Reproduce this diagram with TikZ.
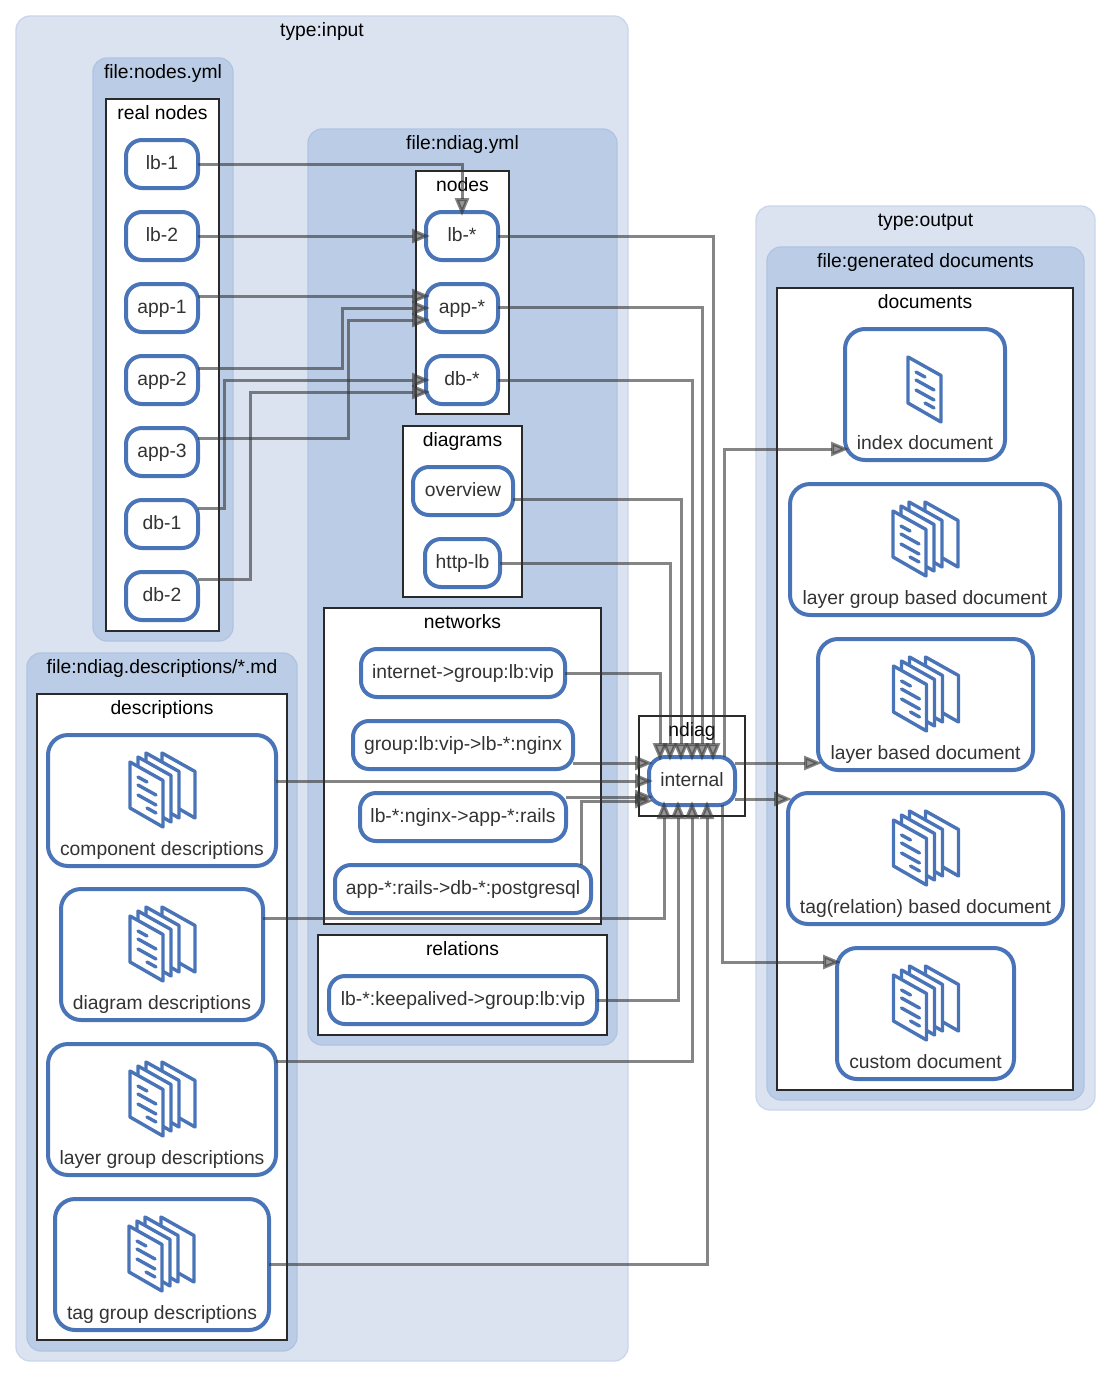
\documentclass[tikz,border=0pt]{standalone}
\usepackage{fontspec}
\setmainfont{Liberation Sans}
\usetikzlibrary{arrows.meta,calc}
\definecolor{typefill}{HTML}{DBE3F1}
\definecolor{typeline}{HTML}{C9D6EC}
\definecolor{filefill}{HTML}{BBCDE6}
\definecolor{fileline}{HTML}{B0C4E2}
\definecolor{nodeblue}{HTML}{4A74B8}
\definecolor{inktext}{HTML}{333333}
\definecolor{frameink}{HTML}{2A2A2A}
\tikzset{
  lbl/.style={font=\fontsize{19.3}{22}\selectfont},
  typebox/.style={draw=typeline,fill=typefill,line width=1.3pt,rounded corners=14pt,inner sep=0pt,outer sep=0pt},
  filebox/.style={draw=fileline,fill=filefill,line width=1.3pt,rounded corners=14pt,inner sep=0pt,outer sep=0pt},
  framebox/.style={draw=frameink,fill=white,line width=2.8pt,inner sep=0pt,outer sep=0pt},
  ndbox/.style={draw=nodeblue,fill=white,line width=4pt,rounded corners=16pt,inner sep=0pt,outer sep=0pt,text=inktext,lbl,text height=14pt,text depth=3pt},
  docbox/.style={ndbox,rounded corners=20pt,text height=120pt,text depth=11pt},
  titletext/.style={lbl,text=black,inner sep=0pt,outer sep=0pt,anchor=base},
  conn/.style={draw=inktext,opacity=.6,line width=3pt,shorten >=-4pt,
     -{Triangle[length=18pt,width=14pt,fill=inktext!85!white]}},
  pageink/.style={draw=nodeblue,line width=3.4pt,line join=round,fill=white},
  pics/pagepic/.style={code={
    \draw[pageink] (0,0) -- (33,18.5) -- (33,65) -- (0,46) -- cycle;
  }},
  pics/pagelines/.style={code={
    \draw[pageink,line cap=round] (8,15) -- (17,20) (8,23) -- (26,33) (8,33) -- (26,43) (17,46) -- (26,51);
  }},
  pics/onedoc/.style={code={
    \pic at (0,0) {pagepic}; \pic at (0,0) {pagelines};
  }},
  pics/manydocs/.style={code={
    \pic at (32,-9) {pagepic}; \pic at (16,-9) {pagepic}; \pic at (8,-5) {pagepic};
    \pic at (0,0) {pagepic}; \pic at (0,0) {pagelines};
  }},
}
\newcommand\area[7]{\node[#2,minimum width={(#5-#3)*1pt},minimum height={(#6-#4)*1pt}] (#1) at ({(#3+#5)/2},{(#4+#6)/2}) {};
  \node[titletext] (#1t) at ($(#1.north)+(0,20)$) {#7};}
\newcommand\nd[6]{\node[ndbox,minimum width={(#4-#2)*1pt},minimum height={(#5-#3)*1pt}] (#1) at ({(#2+#4)/2},{(#3+#5)/2}) {#6};}
\newcommand\doc[6]{\node[docbox,minimum width={(#4-#2)*1pt}] (#1) at ({(#2+#4)/2},{(#3+#5)/2}) {#6};}
\begin{document}
\begin{tikzpicture}[x=1pt,y=-1pt]
\useasboundingbox (0,0) rectangle (1111,1377);
\area{input}{typebox}{16}{16}{628}{1361}{type:input}
\area{output}{typebox}{756}{206}{1095}{1110}{type:output}
\area{fnodes}{filebox}{93}{58}{233}{641}{file:nodes.yml}
\area{fndiag}{filebox}{308}{129}{617}{1045}{file:ndiag.yml}
\area{fdesc}{filebox}{27}{653}{297}{1351}{file:ndiag.descriptions/*.md}
\area{fgen}{filebox}{767}{247}{1084}{1100}{file:generated documents}
\area{real}{framebox}{106}{99}{219}{631}{real nodes}
\area{nodesb}{framebox}{416}{171}{509}{414}{nodes}
\area{diagb}{framebox}{403}{426}{522}{597}{diagrams}
\area{netb}{framebox}{324}{608}{601}{924}{networks}
\area{relb}{framebox}{318}{935}{607}{1035}{relations}
\area{descb}{framebox}{37}{694}{287}{1340}{descriptions}
\area{docsb}{framebox}{777}{288}{1073}{1090}{documents}
\area{ndiagb}{framebox}{639}{716}{745}{816}{ndiag}
% real nodes
\nd{lba}{126}{140}{198}{188}{lb-1}
\nd{lbb}{126}{212}{198}{260}{lb-2}
\nd{appa}{126}{284}{198}{332}{app-1}
\nd{appb}{126}{356}{198}{404}{app-2}
\nd{appc}{126}{428}{198}{476}{app-3}
\nd{dba}{126}{500}{198}{548}{db-1}
\nd{dbb}{126}{572}{198}{620}{db-2}
% ndiag.yml
\nd{lbs}{426}{212}{498}{260}{lb-*}
\nd{apps}{426}{284}{498}{332}{app-*}
\nd{dbs}{426}{356}{498}{404}{db-*}
\nd{over}{413}{467}{513}{515}{overview}
\nd{http}{425}{539}{500}{587}{http-lb}
\nd{neta}{361}{649}{565}{697}{internet->group:lb:vip}
\nd{netbb}{353}{721}{573}{769}{group:lb:vip->lb-*:nginx}
\nd{netc}{360}{793}{566}{841}{lb-*:nginx->app-*:rails}
\nd{netd}{335}{865}{591}{913}{app-*:rails->db-*:postgresql}
\nd{keep}{329}{976}{597}{1024}{lb-*:keepalived->group:lb:vip}
\nd{intern}{649}{757}{735}{805}{internal}
% descriptions
\doc{comp}{48}{735}{276}{866}{component descriptions}
\doc{diagd}{61}{889}{263}{1020}{diagram descriptions}
\doc{layg}{48}{1044}{276}{1175}{layer group descriptions}
\doc{tagg}{55}{1199}{269}{1330}{tag group descriptions}
\pic at ($(comp.north)+(-32,27)$) {manydocs};
\pic at ($(diagd.north)+(-32,27)$) {manydocs};
\pic at ($(layg.north)+(-32,27)$) {manydocs};
\pic at ($(tagg.north)+(-33,27)$) {manydocs};
% documents
\doc{idx}{845}{329}{1005}{460}{index document}
\doc{lgb}{790}{484}{1060}{615}{layer group based document}
\doc{lbd}{818}{639}{1033}{770}{layer based document}
\doc{tgb}{788}{793}{1063}{924}{tag(relation) based document}
\doc{cus}{837}{948}{1014}{1079}{custom document}
\pic at ($(idx.north)+(-17,28)$) {onedoc};
\pic at ($(lgb.north)+(-32,27)$) {manydocs};
\pic at ($(lbd.north)+(-32,27)$) {manydocs};
\pic at ($(tgb.north)+(-32,27)$) {manydocs};
\pic at ($(cus.north)+(-32,27)$) {manydocs};
% connectors into the ndiag.yml nodes
\draw[conn] (lba.east) -| (lbs.north);
\draw[conn] (lbb.east) -- (lbs.west);
\draw[conn] ($(appa.east)+(0,-12)$) -- ($(apps.west)+(0,-12)$);
\draw[conn] ($(appb.east)+(0,-12)$) -- ++(144,0) |- (apps.west);
\draw[conn] ($(appc.east)+(0,-14)$) -- ++(150,0) |- ($(apps.west)+(0,12)$);
\draw[conn] ($(dba.east)+(0,-16)$) -- ++(26,0) |- (dbs.west);
\draw[conn] ($(dbb.east)+(0,-17)$) -- ++(52,0) |- ($(dbs.west)+(0,12)$);
% connectors into internal, top
\draw[conn] (lbs.east) -| ($(intern.north)+(21,0)$);
\draw[conn] ($(apps.east)+(0,-1)$) -| ($(intern.north)+(10,0)$);
\draw[conn] (dbs.east) -| (intern.north);
\draw[conn] ($(over.east)+(0,8)$) -| ($(intern.north)+(-11,0)$);
\draw[conn] (http.east) -| ($(intern.north)+(-22,0)$);
\draw[conn] (neta.east) -| ($(intern.north)+(-32,0)$);
% connectors into internal, left
\draw[conn] ($(netbb.east)+(0,18)$) -- ($(intern.west)+(0,-18)$);
\draw[conn] ($(comp.east)+(0,-19.5)$) -- (intern.west);
\draw[conn] ($(netc.east)+(0,-20)$) -- ($(intern.west)+(0,16)$);
\draw[conn] ($(netd.north)+(118,0)$) |- ($(intern.west)+(0,20)$);
% connectors into internal, bottom
\draw[conn] ($(diagd.east)+(0,-36.5)$) -| ($(intern.south)+(-28,0)$);
\draw[conn] (keep.east) -| ($(intern.south)+(-14,0)$);
\draw[conn] ($(layg.east)+(0,-48.5)$) -| (intern.south);
\draw[conn] (tagg.east) -| ($(intern.south)+(15,0)$);
% connectors out of internal
\draw[conn] ($(intern.north)+(32,0)$) |- ($(idx.west)+(0,54.5)$);
\draw[conn] ($(intern.east)+(0,-18)$) -- ($(lbd.west)+(0,58.5)$);
\draw[conn] ($(intern.east)+(0,18)$) -- ($(tgb.west)+(0,-59.5)$);
\draw[conn] ($(intern.south)+(30,0)$) |- ($(cus.west)+(0,-51.5)$);
\end{tikzpicture}
\end{document}
